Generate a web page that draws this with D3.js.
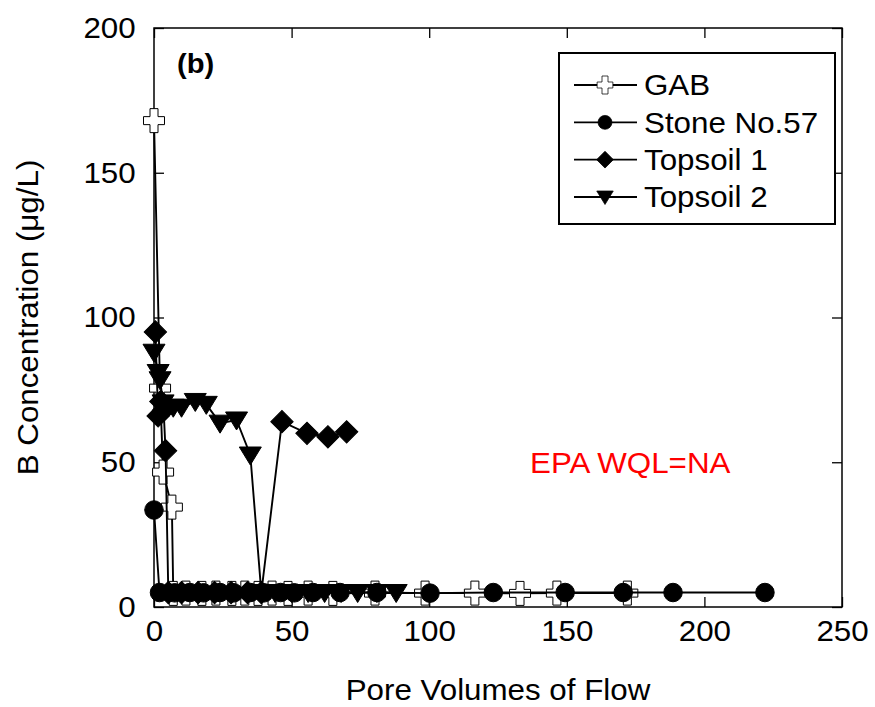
<!DOCTYPE html>
<html>
<head>
<meta charset="utf-8">
<script src="https://cdn.jsdelivr.net/npm/d3@7"></script>
<style>
  body { margin: 0; background: #fff; }
  text { font-family: "Liberation Sans", Arial, sans-serif; fill: #000; }
</style>
</head>
<body>
<div id="chart"></div>
<script>
// values: [pore volumes, concentration]
const gabData = [[0,168],[2.2,75.6],[3.3,46.6],[6.5,34.5],[7,4.7],[11.6,4.8],[17.4,4.7],[22.5,4.8],[28.3,4.7],[33,4.8],
  [37.8,4.7],[42.9,4.8],[48.7,4.7],[56,4.8],[65,4.7],[80.3,4.8],[98.5,4.8],[116.6,4.8],[133,4.7],[146.4,4.8],[172,4.8]];
const stoneData = [[0,33.5],[2,5],[7.5,4.9],[13,5],[18,4.9],[24,5],[29,4.9],[35,5],[40,4.9],[46,5],[51,4.9],
  [57.8,5],[67.6,5],[81,5],[100.3,4.8],[123.3,5],[149.4,5],[170.5,5],[188.6,5],[222,5]];
const top1Data = [[0.5,95],[1.5,66],[2.5,71],[3.5,68],[4.2,54],[5.2,5],[10,5],[16,5],[22,5],[28,5],[34,5],[39,5],
  [46.5,64],[55.6,60],[63.2,58.8],[70,60.5]];
const top2Data = [[0,88],[1.5,81],[2.2,78.5],[3.3,70.5],[7,69],[10,69],[15,71],[19,70],[24,63.5],[30,64.6],[35,52.5],
  [39,5],[44,5],[50,5],[56,5],[62,5],[68,5],[74,5],[81,5],[88,5]];

const seriesNames = ["GAB", "Stone No.57", "Topsoil 1", "Topsoil 2"];
const xTicks = [0, 50, 100, 150, 200, 250];
const yTicks = [0, 50, 100, 150, 200];

const width = 875, height = 707;
const pLeft = 154, pRight = 842, pTop = 28, pBottom = 607;
const sx = 1.08; // text in the picture is a bit wide

const svg = d3.select("#chart").append("svg")
  .attr("width", width)
  .attr("height", height);

const x = d3.scaleLinear().domain([0, 250]).range([pLeft, pRight]);
const y = d3.scaleLinear().domain([0, 200]).range([pBottom, pTop]);

// marker shapes
const crossPath = "M-4,-12H4V-4H10.5V4H4V12H-4V4H-10.5V-4H-4Z";
const circlePath = d3.symbol().type(d3.symbolCircle).size(270)();
const diamondPath = d3.symbol().type(d3.symbolSquare).size(250)();
const trianglePath = "M-11,-8L11,-8L0,10Z";

const series = [
  {name: seriesNames[0], data: gabData, path: crossPath, fill: "#fff", rot: 0},
  {name: seriesNames[1], data: stoneData, path: circlePath, fill: "#000", rot: 0},
  {name: seriesNames[2], data: top1Data, path: diamondPath, fill: "#000", rot: 45},
  {name: seriesNames[3], data: top2Data, path: trianglePath, fill: "#000", rot: 0}
];

// axes, ticks pointing inward
const xAxis = d3.axisBottom(x).tickValues(xTicks).tickSizeInner(-10).tickSizeOuter(0).tickPadding(13);
const yAxis = d3.axisLeft(y).tickValues(yTicks).tickSizeInner(-10).tickSizeOuter(0).tickPadding(17);
const xAxisTop = d3.axisTop(x).tickValues(xTicks).tickSizeInner(-10).tickSizeOuter(0).tickFormat("");
const yAxisRight = d3.axisRight(y).tickValues(yTicks).tickSizeInner(-10).tickSizeOuter(0).tickFormat("");

function styleAxis(g) {
  g.select(".domain").remove();
  g.selectAll(".tick line").attr("stroke", "#000").attr("stroke-width", 1.3);
  g.selectAll(".tick text")
    .style("font-family", "'Liberation Sans', Arial, sans-serif")
    .style("font-size", "29px")
    .attr("fill", "#000");
}

svg.append("g").attr("transform", "translate(0," + pBottom + ")").call(xAxis).call(styleAxis)
  .selectAll(".tick text").attr("transform", "scale(" + sx + ",1)");
svg.append("g").attr("transform", "translate(" + pLeft + ",0)").call(yAxis).call(styleAxis)
  .selectAll(".tick text").attr("transform", "scale(" + sx + ",1)");
svg.append("g").attr("transform", "translate(0," + pTop + ")").call(xAxisTop).call(styleAxis);
svg.append("g").attr("transform", "translate(" + pRight + ",0)").call(yAxisRight).call(styleAxis);

svg.append("rect")
  .attr("x", pLeft).attr("y", pTop)
  .attr("width", pRight - pLeft).attr("height", pBottom - pTop)
  .attr("fill", "none").attr("stroke", "#000").attr("stroke-width", 1.5);

// series: line then markers
const line = d3.line().x(d => x(d[0])).y(d => y(d[1]));

series.forEach(function(s) {
  const g = svg.append("g");
  g.append("path")
    .datum(s.data)
    .attr("d", line)
    .attr("fill", "none")
    .attr("stroke", "#000")
    .attr("stroke-width", 1.9);
  g.selectAll("path.mark")
    .data(s.data).enter().append("path")
    .attr("class", "mark")
    .attr("d", s.path)
    .attr("transform", d => "translate(" + x(d[0]) + "," + y(d[1]) + ") rotate(" + s.rot + ")")
    .attr("fill", s.fill)
    .attr("stroke", "#000")
    .attr("stroke-width", 1);
});

// legend
const legend = svg.append("g");
legend.append("rect")
  .attr("x", 559).attr("y", 53)
  .attr("width", 276).attr("height", 171)
  .attr("fill", "#fff").attr("stroke", "#000").attr("stroke-width", 2);

const legendY = d3.scalePoint().domain(seriesNames).range([85, 197]);

series.forEach(function(s) {
  const ly = legendY(s.name);
  legend.append("line")
    .attr("x1", 574).attr("x2", 637)
    .attr("y1", ly).attr("y2", ly)
    .attr("stroke", "#000").attr("stroke-width", 1.9);
  legend.append("path")
    .attr("d", s.path)
    .attr("transform", "translate(605," + ly + ") rotate(" + s.rot + ") scale(0.75)")
    .attr("fill", s.fill)
    .attr("stroke", "#000")
    .attr("stroke-width", 1);
  legend.append("g")
    .attr("transform", "translate(644," + ly + ") scale(" + sx + ",1)")
    .append("text")
    .attr("dy", "0.36em")
    .style("font-size", "29px")
    .text(s.name);
});

// titles and notes
svg.append("g")
  .attr("transform", "translate(" + ((pLeft + pRight) / 2) + ",700) scale(" + sx + ",1)")
  .append("text")
  .attr("text-anchor", "middle")
  .style("font-size", "29px")
  .text("Pore Volumes of Flow");

svg.append("g")
  .attr("transform", "translate(38," + ((pTop + pBottom) / 2) + ") rotate(-90) scale(" + sx + ",1)")
  .append("text")
  .attr("text-anchor", "middle")
  .style("font-size", "29px")
  .text("B Concentration (\u03bcg/L)");

svg.append("g")
  .attr("transform", "translate(177,73) scale(" + sx + ",1)")
  .append("text")
  .style("font-size", "27px")
  .style("font-weight", "bold")
  .text("(b)");

svg.append("g")
  .attr("transform", "translate(530,473) scale(" + sx + ",1)")
  .append("text")
  .style("font-size", "29px")
  .style("fill", "#ff0000")
  .text("EPA WQL=NA");
</script>
</body>
</html>
